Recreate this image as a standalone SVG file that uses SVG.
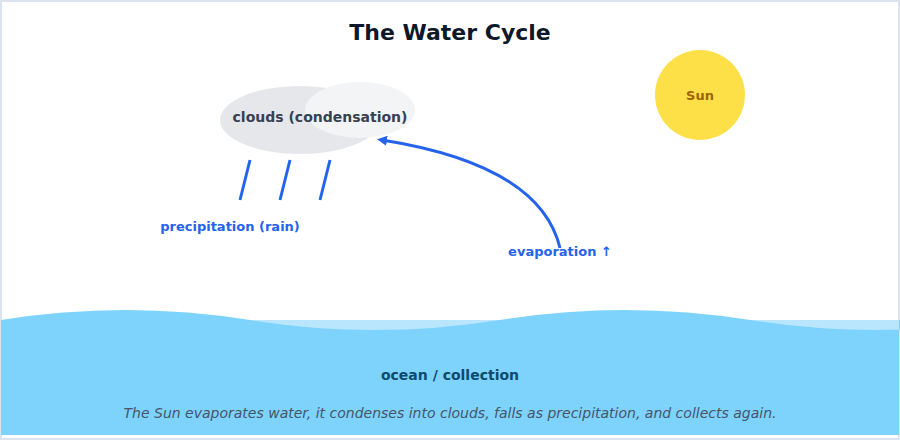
<svg xmlns="http://www.w3.org/2000/svg" width="900" height="440" viewBox="0 0 900 440">
<style>
text{font-family:"DejaVu Sans",sans-serif}
.lbl{font-size:13px;font-weight:bold;fill:#2563eb}
.rain{stroke:#2563eb;stroke-width:3}
</style>
<defs><marker id="ah" markerWidth="10" markerHeight="10" refX="5" refY="5" orient="auto" markerUnits="userSpaceOnUse"><path d="M0,0 L10,5 L0,10 z" fill="#2563eb"/></marker></defs>
<rect x="1" y="1" width="898" height="438" fill="#fff" stroke="#dbe4ee" stroke-width="2"/>
<text x="450" y="40" text-anchor="middle" font-size="22" font-weight="bold" fill="#0f172a">The Water Cycle</text>
<g id="ocean">
<rect x="1" y="320" width="898" height="12" fill="#bae6fd"/>
<path d="M1,320 Q125,300 250,320 T500,320 T750,320 T1000,320 L899,320 L899,435 L1,435 Z" fill="#7dd3fc"/>
<text x="450" y="380" text-anchor="middle" font-size="14" font-weight="bold" fill="#0c4a6e">ocean / collection</text>
</g>
<g id="sun"><circle cx="700" cy="95" r="45" fill="#fde047"/><text x="700" y="100" text-anchor="middle" font-size="13" font-weight="bold" fill="#a16207">Sun</text></g>
<g id="cloud">
<ellipse cx="300" cy="120" rx="80" ry="34" fill="#e5e7eb"/>
<ellipse cx="360" cy="110" rx="55" ry="28" fill="#f3f4f6"/>
<text x="320" y="122" text-anchor="middle" font-size="14" font-weight="bold" fill="#374151">clouds (condensation)</text>
</g>
<g id="rain">
<line class="rain" x1="250" y1="160" x2="240" y2="200"/>
<line class="rain" x1="290" y1="160" x2="280" y2="200"/>
<line class="rain" x1="330" y1="160" x2="320" y2="200"/>
<text class="lbl" x="230" y="231" text-anchor="middle">precipitation (rain)</text>
</g>
<g id="connectors">
<path d="M560,248 Q540,165 382,140" fill="none" stroke="#2563eb" stroke-width="3" marker-end="url(#ah)"/>
</g>
<text class="lbl" x="560" y="256" text-anchor="middle">evaporation ↑</text>
<text x="450" y="418" text-anchor="middle" font-size="14" font-style="italic" fill="#475569">The Sun evaporates water, it condenses into clouds, falls as precipitation, and collects again.</text>
</svg>
